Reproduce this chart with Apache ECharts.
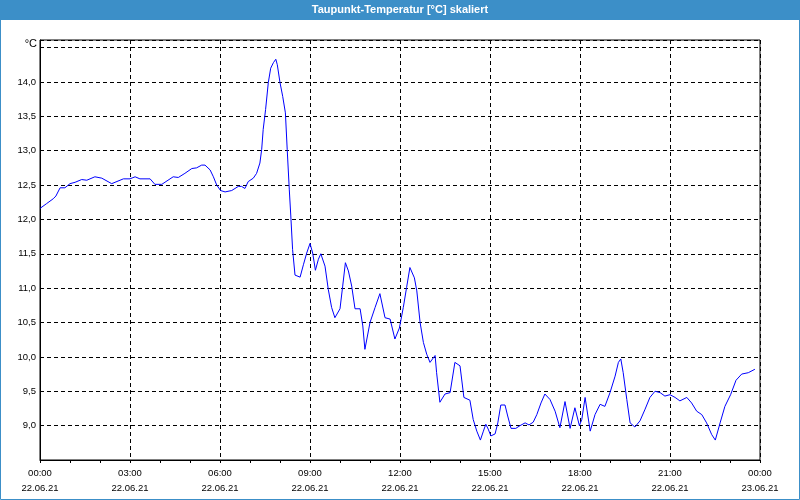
<!DOCTYPE html>
<html>
<head>
<meta charset="utf-8">
<title>Taupunkt-Temperatur</title>
<script src="https://cdn.jsdelivr.net/npm/echarts@6/dist/echarts.min.js"></script>
<style>
  html, body { margin: 0; padding: 0; background: #fff; }
  #chart { width: 800px; height: 500px; }
</style>
</head>
<body>
<div id="chart"></div>
<script>
// hours since 22.06.21 00:00
var hours = [
  0.00, 0.22, 0.44, 0.53, 0.67, 0.83, 1.00, 1.17, 1.39, 1.56, 1.83, 2.06, 2.39, 2.78,
  3.00, 3.17, 3.33, 3.67, 3.83, 4.06, 4.44, 4.61, 4.83, 5.06, 5.22, 5.39, 5.50, 5.67,
  5.78, 5.89, 6.02, 6.17, 6.39, 6.61, 6.72, 6.83, 6.94, 7.11, 7.22, 7.33, 7.39, 7.44,
  7.52, 7.61, 7.69, 7.78, 7.86, 7.91, 8.00, 8.09, 8.18, 8.24, 8.31, 8.36, 8.42, 8.50,
  8.67, 8.78, 8.89, 9.00, 9.09, 9.18, 9.28, 9.36, 9.50, 9.61, 9.72, 9.83, 10.00, 10.09,
  10.18, 10.28, 10.39, 10.50, 10.67, 10.76, 10.83, 11.00, 11.17, 11.33, 11.50, 11.67,
  11.83, 11.98, 12.11, 12.22, 12.33, 12.48, 12.56, 12.67, 12.78, 12.89, 13.00, 13.17,
  13.22, 13.33, 13.50, 13.67, 13.83, 14.00, 14.13, 14.33, 14.44, 14.56, 14.68, 14.78,
  14.86, 14.94, 15.03, 15.17, 15.26, 15.36, 15.50, 15.59, 15.70, 15.86, 16.00, 16.17,
  16.30, 16.44, 16.56, 16.70, 16.83, 17.00, 17.17, 17.33, 17.50, 17.67, 17.83, 17.98,
  18.06, 18.17, 18.34, 18.50, 18.67, 18.83, 19.00, 19.17, 19.28, 19.36, 19.44, 19.56,
  19.67, 19.83, 20.00, 20.17, 20.33, 20.50, 20.67, 20.83, 21.00, 21.17, 21.33, 21.56,
  21.72, 21.89, 22.06, 22.22, 22.39, 22.51, 22.67, 22.83, 23.02, 23.20, 23.39, 23.61,
  23.83
];

// dew point in °C
var dewPoint = [
  12.16, 12.23, 12.30, 12.34, 12.46, 12.46, 12.52, 12.54, 12.58, 12.57, 12.62, 12.60, 12.52, 12.59,
  12.59, 12.62, 12.59, 12.59, 12.51, 12.51, 12.62, 12.61, 12.67, 12.74, 12.75, 12.79, 12.79, 12.72,
  12.62, 12.50, 12.42, 12.40, 12.42, 12.48, 12.48, 12.45, 12.55, 12.60, 12.67, 12.82, 13.02, 13.31,
  13.60, 13.99, 14.20, 14.28, 14.33, 14.25, 13.99, 13.79, 13.55, 13.02, 12.43, 12.05, 11.56, 11.19,
  11.16, 11.34, 11.51, 11.65, 11.51, 11.26, 11.42, 11.50, 11.32, 10.98, 10.72, 10.57, 10.70, 11.03,
  11.37, 11.25, 11.03, 10.70, 10.70, 10.45, 10.11, 10.50, 10.72, 10.92, 10.57, 10.55,
  10.26, 10.42, 10.72, 11.01, 11.30, 11.15, 10.96, 10.50, 10.21, 10.04, 9.92, 10.02,
  9.77, 9.34, 9.46, 9.48, 9.92, 9.87, 9.41, 9.37, 9.09, 8.92, 8.79, 8.92,
  9.02, 8.95, 8.85, 8.88, 9.04, 9.30, 9.30, 9.14, 8.96, 8.96, 9.00, 9.04,
  9.01, 9.05, 9.16, 9.33, 9.46, 9.38, 9.21, 8.97, 9.35, 8.96, 9.26, 9.00,
  9.09, 9.41, 8.92, 9.16, 9.31, 9.28, 9.48, 9.72, 9.92, 9.97, 9.77, 9.38,
  9.04, 8.98, 9.07, 9.24, 9.41, 9.50, 9.48, 9.43, 9.45, 9.41, 9.36, 9.41,
  9.33, 9.21, 9.16, 9.04, 8.87, 8.79, 9.04, 9.28, 9.45, 9.66, 9.75, 9.77,
  9.82
];

var timeLabels = ['00:00', '03:00', '06:00', '09:00', '12:00', '15:00', '18:00', '21:00', '00:00'];
var dateLabels = ['22.06.21', '22.06.21', '22.06.21', '22.06.21', '22.06.21', '22.06.21', '22.06.21', '22.06.21', '23.06.21'];

var titleText = 'Taupunkt-Temperatur [°C] skaliert';
var barBlue = '#3c8fc8';
var fontFamily = '"Liberation Sans", Arial, sans-serif';

var seriesData = hours.map(function (h, i) { return [h, dewPoint[i]]; });

var chart = echarts.init(document.getElementById('chart'));

chart.setOption({
  animation: false,
  backgroundColor: '#fff',
  textStyle: { fontFamily: fontFamily },
  graphic: [
    {
      type: 'rect',
      shape: { x: 0, y: 0, width: 800, height: 20 },
      style: { fill: barBlue },
      silent: true
    },
    {
      // thin frame round the whole window
      type: 'rect',
      shape: { x: 0.5, y: 0.5, width: 799, height: 499 },
      style: { fill: 'none', stroke: barBlue, lineWidth: 1 },
      silent: true
    },
    {
      type: 'text',
      left: 'center', top: 4,
      style: {
        text: titleText,
        fill: '#fff',
        font: 'bold 11px ' + fontFamily
      },
      silent: true
    }
  ],
  grid: {
    left: 40, top: 40, width: 720, height: 420,
    show: true,
    borderColor: '#000',
    borderWidth: 1,
    backgroundColor: 'transparent'
  },
  xAxis: {
    type: 'value',
    min: 0, max: 24, interval: 3,
    axisLine: { lineStyle: { color: '#000', width: 1 } },
    axisTick: { show: true, inside: false, length: 3, lineStyle: { color: '#000' } },
    minorTick: { show: true, splitNumber: 3, length: 3, lineStyle: { color: '#000' } },
    splitLine: { show: true, lineStyle: { color: '#000', type: [4, 3], width: 1 } },
    axisLabel: {
      margin: 6,
      color: '#000',
      fontSize: 9.5,
      lineHeight: 15,
      formatter: function (v) {
        var i = Math.round(v / 3);
        return timeLabels[i] + '\n' + dateLabels[i];
      }
    }
  },
  yAxis: {
    type: 'value',
    min: 8.5, max: 14.61, interval: 0.5,
    name: '°C',
    nameLocation: 'end',
    nameGap: -4,
    nameTextStyle: {
      color: '#000', fontSize: 11,
      align: 'right', verticalAlign: 'middle',
      padding: [0, 3, 0, 0]
    },
    axisLine: { show: true, lineStyle: { color: '#000', width: 1 } },
    axisTick: { show: false },
    splitLine: { show: true, lineStyle: { color: '#000', type: [4, 3], width: 1 } },
    axisLabel: {
      margin: 4,
      color: '#000',
      fontSize: 9.5,
      formatter: function (v) {
        var r = Math.round(v * 10) / 10;
        if (r < 9 || r > 14 || Math.abs(r * 2 - Math.round(r * 2)) > 0.01) { return ''; }
        return r.toFixed(1).replace('.', ',');
      }
    }
  },
  series: [{
    type: 'line',
    data: seriesData,
    showSymbol: false,
    smooth: false,
    lineStyle: { color: '#0000ff', width: 1 },
    itemStyle: { color: '#0000ff' }
  }]
});
</script>
</body>
</html>
